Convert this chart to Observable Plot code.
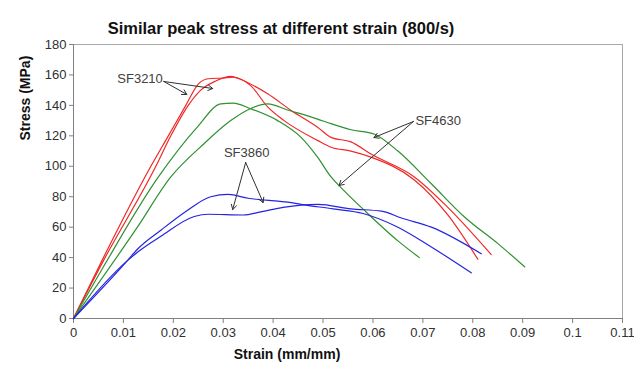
<!DOCTYPE html>
<html><head><meta charset="utf-8">
<script src="https://cdn.jsdelivr.net/npm/d3@7"></script>
<script src="https://cdn.jsdelivr.net/npm/@observablehq/plot@0.6"></script>
<style>
html,body{margin:0;padding:0;background:#fff;}
svg{font-family:"Liberation Sans",Arial,sans-serif;}
</style></head>
<body><div id="chart"></div>
<script>
const titleText = "Similar peak stress at different strain (800/s)";
const xLabel = "Strain (mm/mm)";
const yLabel = "Stress (MPa)";
const xTicks = [0,0.01,0.02,0.03,0.04,0.05,0.06,0.07,0.08,0.09,0.1,0.11];
const xTickLabels = ["0","0.01","0.02","0.03","0.04","0.05","0.06","0.07","0.08","0.09","0.1","0.11"];
const yTicks = [0,20,40,60,80,100,120,140,160,180];

// SF3210 (red)
const red1 = [[0,0],[0.006,40],[0.0155,100],[0.019,120],[0.0225,140],[0.025,154],[0.027,157.5],[0.03,158],[0.032,158.5],[0.0355,153],[0.0389,139],[0.0422,130],[0.0489,117],[0.0516,112.5],[0.0556,110],[0.0596,106],[0.0683,91],[0.075,68],[0.081,39]];
const red2 = [[0,0],[0.006,38],[0.0165,100],[0.0195,120],[0.023,140],[0.0255,150],[0.0285,156],[0.0315,159],[0.0335,157],[0.0389,147.6],[0.0436,136.7],[0.0489,125.7],[0.0516,119],[0.0556,116],[0.0596,108],[0.0683,93],[0.075,73],[0.0837,42]];
// SF4630 (green)
const green1 = [[0,0],[0.006,34],[0.0168,92],[0.0248,125.7],[0.0295,141],[0.032,141.5],[0.0355,137.8],[0.0409,130],[0.0456,119],[0.0489,106],[0.0516,93],[0.0536,86],[0.0583,71],[0.065,51],[0.0693,40]];
const green2 = [[0,0],[0.0128,60],[0.0195,93],[0.0262,115],[0.0315,130],[0.0355,138],[0.0389,141],[0.0429,137],[0.0489,131],[0.0516,128],[0.0556,124],[0.0603,121],[0.065,110],[0.0717,88.5],[0.0784,66.5],[0.0851,49],[0.0904,34]];
// SF3860 (blue)
const blue1 = [[0,0],[0.0108,38],[0.0128,45.5],[0.0175,58],[0.0228,71],[0.0275,80],[0.031,81.5],[0.035,79],[0.043,76.4],[0.0456,75],[0.052,72],[0.058,69],[0.065,60],[0.0717,47],[0.0797,30]];
const blue2 = [[0,0],[0.0108,38],[0.013,44],[0.0175,54],[0.0242,67],[0.027,68.5],[0.034,68],[0.0375,70],[0.042,73],[0.0456,74.5],[0.049,75],[0.0556,72],[0.0617,70.5],[0.0657,66],[0.0717,60],[0.0817,42.5]];

const seriesNames = ["red1","red2","green1","green2","blue1","blue2"];
const seriesData = [red1,red2,green1,green2,blue1,blue2];
const seriesColors = ["#f02828","#f02828","#2f902f","#2f902f","#2424e0","#2424e0"];

// annotations: label, text position, arrow start, arrow ends (data units)
const annLabels = ["SF3210","SF3860","SF4630"];
const annText = [[0.0179,157.7,"end"],[0.0347,109,"middle"],[0.0685,130,"start"]];
const annFrom = [[0.0181,155.7],[0.0345,102.5],[0.0681,129.4]];
const annTo = [[[0.0227,147.2],[0.0279,151.1]],[[0.0319,71.6],[0.038,76.2]],[[0.0602,118.9],[0.0532,87.4]]];

const rows = [];
seriesData.forEach((s,i)=>s.forEach(([x,y])=>rows.push({x,y,s:seriesNames[i]})));
const arrows = [];
annFrom.forEach((f,i)=>annTo[i].forEach(t=>arrows.push({x1:f[0],y1:f[1],x2:t[0],y2:t[1]})));
const texts = annLabels.map((l,i)=>({x:annText[i][0],y:annText[i][1],a:annText[i][2],l}));

const chart = Plot.plot({
  width: 634, height: 367,
  marginLeft: 73, marginRight: 12, marginTop: 44, marginBottom: 49,
  style: {fontFamily: '"Liberation Sans",Arial,sans-serif', background: "#fff"},
  x: {domain: [0,0.11]},
  y: {domain: [0,180]},
  color: {domain: seriesNames, range: seriesColors},
  marks: [
    Plot.frame({stroke: "#a8a8a8"}),
    Plot.ruleX([0], {stroke: "#808080"}),
    Plot.ruleY([0], {stroke: "#808080"}),
    Plot.axisX({ticks: xTicks, tickSize: 5, tickPadding: 4, stroke: "#808080", fill: "#303030", fontSize: 13, tickFormat: (d,i)=>xTickLabels[i], label: null}),
    Plot.axisY({ticks: yTicks, tickSize: 4, tickPadding: 3, stroke: "#808080", fill: "#303030", fontSize: 13, label: null}),
    Plot.line(rows, {x: "x", y: "y", z: "s", stroke: "s", strokeWidth: 1.2, curve: "monotone-x"}),
    Plot.arrow(arrows, {x1:"x1", y1:"y1", x2:"x2", y2:"y2", stroke:"#303030", strokeWidth:1, headLength:8, bend:0}),
    Plot.text(texts.filter(d=>d.a==="end"), {x:"x", y:"y", text:"l", textAnchor:"end", fontSize:13, fill:"#404040"}),
    Plot.text(texts.filter(d=>d.a==="middle"), {x:"x", y:"y", text:"l", textAnchor:"middle", fontSize:13, fill:"#404040"}),
    Plot.text(texts.filter(d=>d.a==="start"), {x:"x", y:"y", text:"l", textAnchor:"start", fontSize:13, fill:"#404040"}),
    Plot.text([titleText], {frameAnchor:"top", dx:-67, dy:-22, text: d=>d, fontSize:16.5, fontWeight:"bold", fill:"#111"}),
    Plot.text([xLabel], {frameAnchor:"bottom", dx:-61, dy:40, text: d=>d, fontSize:14, fontWeight:"bold", fill:"#111"}),
    Plot.text([yLabel], {frameAnchor:"left", dx:-48, dy:-41, rotate:-90, text: d=>d, fontSize:14, fontWeight:"bold", fill:"#111"})
  ]
});
document.getElementById("chart").appendChild(chart);
</script></body></html>
